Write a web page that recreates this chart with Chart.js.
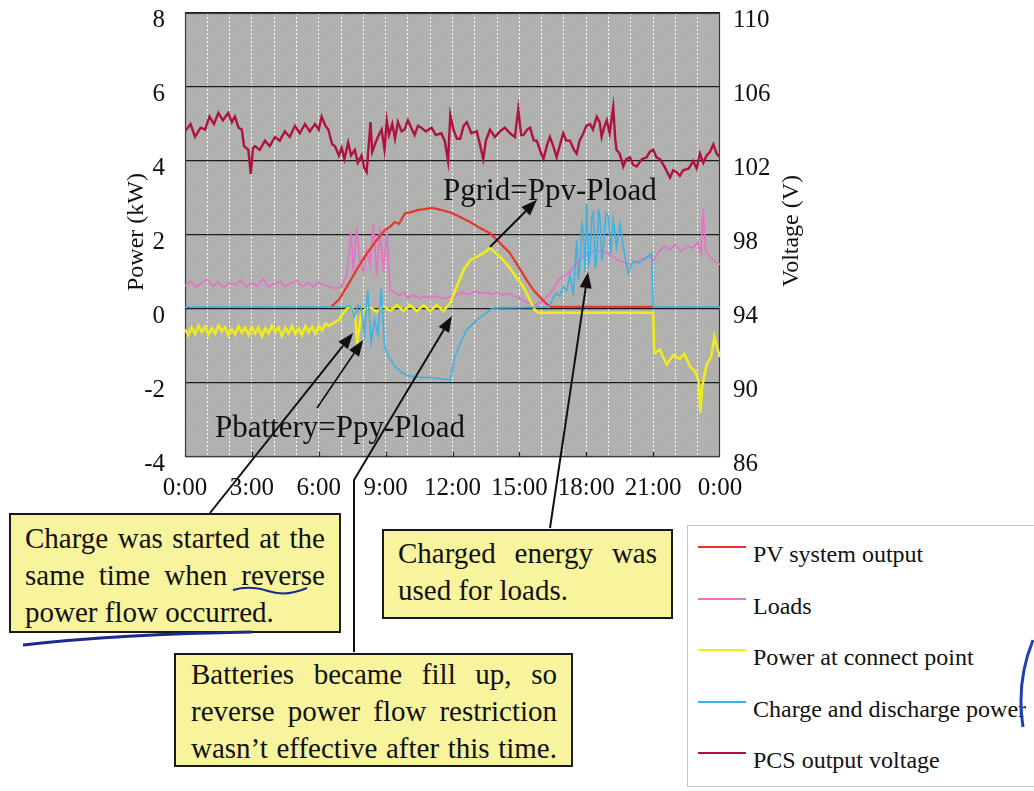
<!DOCTYPE html>
<html>
<head>
<meta charset="utf-8">
<script src="https://cdn.jsdelivr.net/npm/chart.js@4.4.1/dist/chart.umd.min.js"></script>
<style>
  body { margin: 0; background: #fff; }
  #wrap { position: relative; width: 1034px; height: 791px; overflow: hidden; font-family: 'Liberation Serif', 'Times New Roman', serif; color: #111; }
  #c { position: absolute; left: 0; top: 0; }
  .note { position: absolute; box-sizing: border-box; background: #f8f49e; border: 2px solid #1a1a1a; font-size: 29px; line-height: 37px; }
  .note div { text-align: justify; text-align-last: justify; }
  .note div.last { text-align-last: left; }
  .label { position: absolute; font-size: 31px; line-height: 31px; white-space: nowrap; }
  .axt { position: absolute; width: 200px; height: 28px; line-height: 28px; font-size: 24px; text-align: center; transform: rotate(-90deg); }
  #legend { position: absolute; left: 687px; top: 525px; width: 360px; height: 262px; box-sizing: border-box; border: 1px solid #c6c6c6; background: #fff; }
  .li { position: absolute; left: 0; height: 28px; font-size: 24px; line-height: 28px; white-space: nowrap; }
  .li span.sw { position: absolute; left: 10px; top: 6px; width: 48px; height: 2px; }
  .li span.tx { position: absolute; left: 65px; top: 0; }
  svg { position: absolute; left: 0; top: 0; pointer-events: none; }
</style>
</head>
<body>
<div id="wrap">
  <canvas id="c" width="1034" height="791"></canvas>

  <div class="axt" style="left:35px; top:218px;">Power (kW)</div>
  <div class="axt" style="left:690px; top:217px;">Voltage (V)</div>

  <div class="label" style="left:443px; top:174px;">Pgrid=Ppv-Pload</div>
  <div class="label" style="left:215px; top:411px;">Pbattery=Ppy-Pload</div>

  <div class="note" style="left:9px; top:513px; width:332px; height:120px; padding:5px 14px 0 14px;">
    <div>Charge was started at the</div>
    <div>same time when reverse</div>
    <div class="last">power flow occurred.</div>
  </div>
  <div class="note" style="left:382px; top:529px; width:291px; height:90px; padding:4px 14px 0 14px;">
    <div>Charged energy was</div>
    <div class="last">used for loads.</div>
  </div>
  <div class="note" style="left:174px; top:653px; width:399px; height:114px; padding:1px 14px 0 15px;">
    <div>Batteries became fill up, so</div>
    <div>reverse power flow restriction</div>
    <div>wasn’t effective after this time.</div>
  </div>

  <div id="legend"></div>

  <svg width="1034" height="791">
    <path d="M233 590 Q250 585 268 591 T307 588" fill="none" stroke="#1b2a8c" stroke-width="2"/>
    <path d="M23 645 Q120 634 252 632" fill="none" stroke="#1b2a8c" stroke-width="3"/>
    <path d="M1033 640 Q1016 682 1023 727" fill="none" stroke="#2040b0" stroke-width="3"/>
  </svg>
</div>

<script>
// hours of day, kW (left axis) and V (right axis)
const pvTime = [6.55, 6.9, 7.17, 7.45, 7.77, 8.05, 8.37, 8.65, 8.97, 9.2, 9.42, 9.6, 9.87, 10.15, 10.46, 10.75, 11.06, 11.35, 11.66, 11.95, 12.3, 12.79, 13.2, 13.68, 14.1, 14.58, 14.95, 15.33, 15.65, 15.93, 16.2, 16.4, 21.0];
const pvPower = [0.05, 0.25, 0.51, 0.8, 1.13, 1.4, 1.68, 1.9, 2.14, 2.22, 2.35, 2.3, 2.59, 2.62, 2.68, 2.7, 2.73, 2.7, 2.65, 2.6, 2.5, 2.35, 2.2, 2.05, 1.8, 1.51, 1.15, 0.78, 0.5, 0.32, 0.15, 0.06, 0.06];

const loadTime = [0, 0.25, 0.5, 0.75, 1, 1.25, 1.5, 1.75, 2, 2.25, 2.5, 2.75, 3, 3.25, 3.5, 3.75, 4, 4.25, 4.5, 4.75, 5, 5.25, 5.5, 5.75, 6, 6.25, 6.5, 6.75, 7,
  7.25, 7.45, 7.55, 7.7, 7.85, 8, 8.15, 8.3, 8.45, 8.6, 8.75, 8.9, 9.05, 9.2, 9.4, 9.6, 9.8,
  10, 10.25, 10.5, 10.75, 11, 11.25, 11.5, 11.75, 12, 12.25, 12.5, 12.75, 13, 13.25, 13.5, 13.75, 14, 14.25, 14.5, 14.75,
  15, 15.25, 15.5, 15.75, 16, 16.25, 16.5, 16.75, 17, 17.25, 17.5, 18, 18.5, 19, 19.5, 20, 20.5, 20.9,
  21, 21.25, 21.5, 21.75, 22, 22.25, 22.5, 22.75, 23, 23.15, 23.25, 23.35, 23.5, 23.75, 24];
const loadPower = [0.62, 0.75, 0.6, 0.7, 0.8, 0.62, 0.72, 0.58, 0.7, 0.66, 0.78, 0.6, 0.7, 0.62, 0.82, 0.6, 0.68, 0.74, 0.6, 0.7, 0.76, 0.62, 0.7, 0.6, 0.72, 0.64, 0.6, 0.55, 0.6,
  0.9, 2.1, 1.0, 2.2, 1.3, 1.0, 1.6, 1.2, 2.3, 0.9, 2.2, 1.0, 2.1, 0.5, 0.45, 0.35, 0.45,
  0.3, 0.38, 0.28, 0.35, 0.3, 0.36, 0.28, 0.3, 0.35, 0.4, 0.45, 0.38, 0.48, 0.42, 0.45, 0.4, 0.44, 0.38, 0.42, 0.35,
  0.3, 0.2, 0.15, 0.1, 0.2, 0.35, 0.5, 0.78, 0.9, 1.0, 1.2, 1.5, 1.6, 1.5, 1.3, 1.2, 1.35, 1.4,
  1.3, 1.55, 1.7, 1.6, 1.75, 1.55, 1.7, 1.65, 1.8, 1.5, 2.7, 1.6, 1.45, 1.3, 1.2];

const gridTime = [0, 0.15, 0.3, 0.45, 0.6, 0.75, 0.9, 1.05, 1.2, 1.35, 1.5, 1.65, 1.8, 1.95, 2.1, 2.25, 2.4, 2.55, 2.7, 2.85,
  3.0, 3.15, 3.3, 3.45, 3.6, 3.75, 3.9, 4.05, 4.2, 4.35, 4.5, 4.65, 4.8, 4.95, 5.1, 5.25, 5.4, 5.55, 5.7, 5.85,
  6.0, 6.15, 6.3, 6.45, 6.6, 6.75, 6.9, 7.05, 7.2, 7.35, 7.5, 7.65, 7.72, 7.8, 7.9, 8.05,
  8.3, 8.6, 8.9, 9.2, 9.5, 9.8, 10.1, 10.4, 10.7, 11.0, 11.3, 11.6,
  11.89, 12.19, 12.49, 12.79, 13.09, 13.38, 13.68, 13.98, 14.28, 14.58, 14.88, 15.18, 15.48, 15.7, 15.85, 21.0,
  21.05, 21.3, 21.6, 21.9, 22.2, 22.4, 22.65, 22.9, 23.05, 23.12, 23.2, 23.4, 23.6, 23.75, 23.9, 24];
const gridPower = [-0.55, -0.7, -0.5, -0.68, -0.45, -0.62, -0.48, -0.7, -0.52, -0.66, -0.44, -0.6, -0.5, -0.72, -0.55, -0.68, -0.46, -0.64, -0.5, -0.7,
  -0.48, -0.66, -0.5, -0.74, -0.52, -0.65, -0.45, -0.62, -0.5, -0.72, -0.5, -0.66, -0.46, -0.68, -0.52, -0.7, -0.46, -0.62, -0.48, -0.66,
  -0.45, -0.58, -0.4, -0.45, -0.4, -0.35, -0.3, -0.15, -0.03, 0.05, 0.02, -0.2, -1.0, -0.6, -0.15, -0.02,
  0.05, -0.08, 0.08, -0.05, 0.1, -0.05, 0.1, -0.06, 0.1, -0.05, 0.1, -0.05,
  0.16, 0.6, 1.05, 1.32, 1.41, 1.5, 1.65, 1.5, 1.32, 1.1, 0.84, 0.6, 0.24, -0.03, -0.1, -0.1,
  -1.2, -1.1, -1.5, -1.25, -1.35, -1.2, -1.55, -1.7, -2.0, -2.8, -2.1, -1.5, -1.3, -0.75, -1.1, -1.3];

const battTime = [0, 7.2, 7.35, 7.5, 7.6, 7.75, 7.9, 8.05, 8.2, 8.35, 8.5, 8.65, 8.8, 8.95, 9.15, 9.45, 9.75, 10.0, 10.46, 11.06,
  11.66, 11.9, 12.1, 12.35, 12.64, 13.09, 13.53, 13.83, 16.2, 16.37, 16.52, 16.67, 16.82, 16.97, 17.12, 17.27, 17.42, 17.57, 17.65, 17.72,
  17.8, 17.87, 17.95, 18.02, 18.1, 18.17, 18.25, 18.32, 18.4, 18.47, 18.55, 18.62, 18.7, 18.77, 18.88, 18.99, 19.1, 19.21, 19.36, 19.51,
  19.66, 19.88, 20.11, 20.41, 20.71, 20.93, 21.0, 24];
const battPower = [0.05, 0.05, 0.1, 0.0, -0.2, 0.1, 0.05, -0.65, 0.5, -0.9, -0.3, -0.7, 0.55, -1.0, -1.3, -1.57, -1.73, -1.8, -1.84, -1.86,
  -1.9, -1.92, -1.3, -0.92, -0.57, -0.3, -0.1, 0.03, 0.05, 0.1, 0.3, 0.43, 0.35, 0.6, 0.5, 0.9, 0.4, 1.86, 0.8, 1.2,
  2.3, 2.14, 1.0, 2.86, 1.2, 1.4, 2.5, 2.6, 1.1, 1.4, 2.7, 2.4, 1.3, 1.7, 2.6, 2.5, 1.5, 2.4, 1.7, 2.3,
  1.68, 0.97, 1.3, 1.25, 1.4, 1.5, 0.05, 0.05];

const pcsTime = [0, 0.25, 0.45, 0.7, 0.9, 1.1, 1.3, 1.5, 1.7, 1.94,
  2.1, 2.24, 2.4, 2.55, 2.65, 2.84, 2.95, 3.05, 3.14, 3.35,
  3.59, 3.8, 4.04, 4.25, 4.48, 4.7, 4.93, 5.15, 5.38, 5.6,
  5.83, 6.0, 6.13, 6.3, 6.43, 6.6, 6.73, 6.9, 7.03, 7.15,
  7.32, 7.45, 7.62, 7.75, 7.92, 8.05, 8.15, 8.25, 8.32, 8.4,
  8.52, 8.65, 8.82, 8.95, 9.05, 9.15, 9.3, 9.42, 9.55, 9.72,
  9.85, 10.0, 10.15, 10.3, 10.45, 10.6, 10.8, 11.06, 11.25, 11.5,
  11.65, 11.8, 11.9, 12.04, 12.2, 12.34, 12.5, 12.64, 12.85, 13.09,
  13.25, 13.38, 13.5, 13.68, 13.9, 14.13, 14.35, 14.58, 14.8, 14.95,
  15.08, 15.18, 15.35, 15.48, 15.65, 15.78, 15.95, 16.08, 16.25, 16.37,
  16.55, 16.67, 16.85, 16.97, 17.1, 17.27, 17.45, 17.57, 17.7, 17.87,
  18.0, 18.17, 18.3, 18.47, 18.6, 18.69, 18.8, 18.92, 19.05, 19.21,
  19.3, 19.36, 19.5, 19.66, 19.8, 19.96, 20.1, 20.26, 20.5, 20.71,
  20.85, 21.01, 21.15, 21.31, 21.55, 21.76, 21.9, 22.05, 22.2, 22.35,
  22.6, 22.8, 22.95, 23.1, 23.25, 23.4, 23.55, 23.7, 23.85, 24];
const pcsVolt = [103.6, 104.0, 103.3, 103.8, 103.7, 104.4, 104.0, 104.6, 104.2, 104.6,
  104.1, 104.4, 103.8, 103.7, 102.8, 102.6, 101.3, 102.7, 102.8, 102.6,
  103.1, 102.8, 103.3, 103.1, 103.6, 103.3, 103.9, 103.5, 104.0, 103.6,
  104.0, 103.7, 104.4, 103.9, 103.7, 102.9, 102.8, 102.3, 102.7, 102.1,
  103.0, 102.3, 102.6, 101.9, 102.3, 101.6, 101.4, 103.0, 104.1, 102.5,
  102.9, 103.3, 103.7, 102.6, 104.2, 103.4, 104.0, 103.2, 104.1, 103.6,
  103.7, 104.2, 103.8, 103.4, 103.9, 103.8, 103.6, 103.8, 103.4, 103.5,
  103.1, 102.0, 104.5, 103.7, 103.2, 103.2, 103.9, 104.1, 103.5, 103.6,
  102.8, 102.1, 103.1, 103.7, 103.3, 103.6, 103.8, 103.5, 103.3, 104.8,
  103.4, 103.4, 103.7, 103.8, 103.1, 103.1, 102.5, 102.1, 102.9, 103.3,
  102.7, 102.2, 103.0, 103.5, 103.1, 103.1, 102.6, 102.4, 103.1, 103.5,
  103.9, 104.0, 103.7, 104.4, 104.1, 103.3, 103.8, 104.2, 103.5, 104.9,
  103.2, 102.6, 102.4, 101.7, 102.1, 102.2, 101.8, 101.7, 102.1, 102.2,
  102.5, 102.6, 102.2, 102.1, 101.6, 101.1, 101.5, 101.4, 101.2, 101.5,
  101.6, 102.0, 101.6, 102.4, 101.9, 102.3, 102.5, 102.9, 102.4, 102.2];

const seriesNames = ['PV system output', 'Loads', 'Power at connect point', 'Charge and discharge power', 'PCS output voltage'];
const seriesColors = ['#e8372a', '#e374c6', '#f0ec1c', '#3cb2e6', '#b0123f'];

const pts = (t, v) => t.map((x, i) => ({ x, y: v[i] }));
const serif = 'Liberation Serif';

function hatch(ctx) {
  const c = document.createElement('canvas');
  c.width = c.height = 3;
  const g = c.getContext('2d');
  g.fillStyle = '#b7b7b6';
  g.fillRect(0, 0, 3, 3);
  g.fillStyle = '#a4a4a3';
  for (let i = 0; i < 3; i++) g.fillRect(i, 2 - i, 1, 1);
  return ctx.createPattern(c, 'repeat');
}

// arrows: tail points in page pixels, tip in data units (hours, kW)
const arrows = [
  { from: [[210, 513]], tip: [7.54, -0.65], w: 2 },
  { from: [[317, 408]], tip: [7.99, -0.84], w: 1.6 },
  { from: [[354, 652], [354, 480]], tip: [11.98, -0.19], w: 2 },
  { from: [[550, 528]], tip: [18.08, 1.0], w: 2 },
  { from: [[490, 247]], tip: [15.79, 2.95], w: 2 }
];

const paper = {
  id: 'paper',
  beforeDraw(chart) {
    const { ctx, chartArea: a } = chart;
    ctx.save();
    ctx.fillStyle = hatch(ctx);
    ctx.fillRect(a.left, a.top, a.right - a.left, a.bottom - a.top);
    ctx.restore();
  },
  beforeDatasetsDraw(chart) {
    const { ctx, chartArea: a, scales } = chart;
    ctx.save();
    ctx.strokeStyle = '#3a3a3a';
    ctx.lineWidth = 1.2;
    ctx.strokeRect(a.left + 0.5, a.top + 0.5, a.right - a.left - 1, a.bottom - a.top - 1);
    // small inward ticks every 3 hours
    ctx.strokeStyle = '#222';
    for (let h = 3; h < 24; h += 3) {
      const x = Math.round(scales.x.getPixelForValue(h)) + 0.5;
      ctx.beginPath();
      ctx.moveTo(x, a.bottom);
      ctx.lineTo(x, a.bottom - 5);
      ctx.stroke();
    }
    ctx.restore();
  },
  afterDraw(chart) {
    const { ctx, scales } = chart;
    ctx.save();
    ctx.strokeStyle = '#111';
    ctx.fillStyle = '#111';
    arrows.forEach(a => {
      const tx = scales.x.getPixelForValue(a.tip[0]);
      const ty = scales.y.getPixelForValue(a.tip[1]);
      const last = a.from[a.from.length - 1];
      const ang = Math.atan2(ty - last[1], tx - last[0]);
      const len = 16, half = 6;
      const bx = tx - Math.cos(ang) * len, by = ty - Math.sin(ang) * len;
      ctx.lineWidth = a.w;
      ctx.beginPath();
      ctx.moveTo(a.from[0][0], a.from[0][1]);
      a.from.slice(1).forEach(p => ctx.lineTo(p[0], p[1]));
      ctx.lineTo(bx, by);
      ctx.stroke();
      ctx.beginPath();
      ctx.moveTo(tx, ty);
      ctx.lineTo(bx - Math.sin(ang) * half, by + Math.cos(ang) * half);
      ctx.lineTo(bx + Math.sin(ang) * half, by - Math.cos(ang) * half);
      ctx.closePath();
      ctx.fill();
    });
    ctx.restore();
  }
};

const line = (i, data, extra) => Object.assign({
  label: seriesNames[i],
  data,
  borderColor: seriesColors[i],
  backgroundColor: seriesColors[i],
  pointRadius: 0,
  tension: 0,
  fill: false
}, extra);

// fixed axis box sizes so the plot area lands where the figure has it
const fixY = w => s => { s.width = w; s.paddingTop = 0; s.paddingBottom = 0; };

const chart = new Chart(document.getElementById('c'), {
  type: 'line',
  data: {
    datasets: [
      line(0, pts(pvTime, pvPower), { borderWidth: 2.2, order: 3, yAxisID: 'y' }),
      line(1, pts(loadTime, loadPower), { borderWidth: 1.8, order: 4, yAxisID: 'y' }),
      line(2, pts(gridTime, gridPower), { borderWidth: 2.6, order: 2, yAxisID: 'y' }),
      line(3, pts(battTime, battPower), { borderWidth: 1.6, order: 1, yAxisID: 'y' }),
      line(4, pts(pcsTime, pcsVolt), { borderWidth: 2.4, order: 0, yAxisID: 'y1' })
    ]
  },
  options: {
    responsive: false,
    animation: false,
    layout: { padding: { top: 13, left: 0, right: 0, bottom: 0 } },
    plugins: { legend: { display: false }, tooltip: { enabled: false } },
    scales: {
      x: {
        type: 'linear', min: 0, max: 24,
        afterFit(s) { s.height = 334; s.paddingLeft = 0; s.paddingRight = 0; },
        ticks: {
          stepSize: 1, autoSkip: false, maxRotation: 0, padding: 16, color: '#111',
          font: { family: serif, size: 25 },
          callback: v => (v % 3 === 0 ? (v % 24) + ':00' : '')
        },
        grid: { color: 'rgba(255,255,255,0.95)', lineWidth: 1, drawTicks: false },
        border: { display: false, dash: [2, 2] }
      },
      y: {
        position: 'left', min: -4, max: 8,
        afterFit: fixY(185),
        ticks: { stepSize: 2, padding: 20, labelOffset: 7, color: '#111', font: { family: serif, size: 25 } },
        grid: { color: '#1c1c1c', lineWidth: 1.3, drawTicks: false },
        border: { display: false }
      },
      y1: {
        position: 'right', min: 86, max: 110,
        afterFit: fixY(314),
        ticks: { stepSize: 4, padding: 13, labelOffset: 7, color: '#111', font: { family: serif, size: 25 } },
        grid: { display: false, drawTicks: false },
        border: { display: false }
      }
    }
  },
  plugins: [paper]
});

// legend box built from the chart's datasets
const legend = document.getElementById('legend');
chart.data.datasets.forEach((ds, i) => {
  const row = document.createElement('div');
  row.className = 'li';
  row.style.top = (14 + i * 51.5) + 'px';
  row.innerHTML = '<span class="sw" style="background:' + ds.borderColor + '"></span><span class="tx">' + ds.label + '</span>';
  legend.appendChild(row);
});
</script>
</body>
</html>
